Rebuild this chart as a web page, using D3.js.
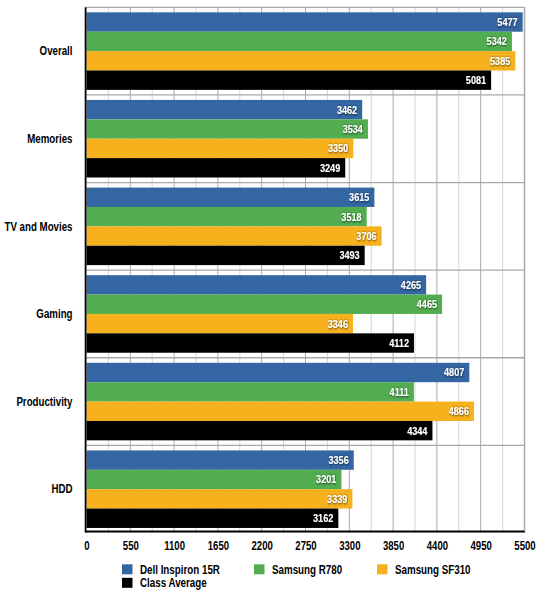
<!DOCTYPE html>
<html><head><meta charset="utf-8">
<script src="https://cdn.jsdelivr.net/npm/d3@7"></script>
<style>
body{margin:0;background:#fff;}
text{font-family:"Liberation Sans",Arial,sans-serif;font-weight:bold;}
</style></head>
<body><svg id="c" width="540" height="599"></svg>
<script>
const categories = ["Overall","Memories","TV and Movies","Gaming","Productivity","HDD"];
const seriesNames = ["Dell Inspiron 15R","Samsung R780","Samsung SF310","Class Average"];
const dell = [5477,3462,3615,4265,4807,3356];
const r780 = [5342,3534,3518,4465,4111,3201];
const sf310 = [5385,3350,3706,3346,4866,3339];
const classAvg = [5081,3249,3493,4112,4344,3162];
const tickValues = [0,550,1100,1650,2200,2750,3300,3850,4400,4950,5500];
const colors = ["#3366a2","#51ad4f","#f6b11d","#000000"];

const series = [dell, r780, sf310, classAvg];
const svg = d3.select("#c");
const defs = svg.append("defs");
const f = defs.append("filter").attr("id","sh").attr("x","-20%").attr("y","-40%").attr("width","140%").attr("height","180%");
f.append("feDropShadow").attr("dx",0.5).attr("dy",0.5).attr("stdDeviation",0.8)
  .attr("flood-color","#000").attr("flood-opacity",0.85);

const L = 86.5, R = 524.5, T = 7.3, B = 533;
const SX = 0.81;
const x = d3.scaleLinear().domain([0,5500]).range([L,R]);
const y = d3.scaleBand().domain(categories).range([T,B]);
const yi = d3.scaleBand().domain(d3.range(4)).range([0,y.bandwidth()]).paddingOuter(0.26).paddingInner(0);

function sText(sel, size, sx){
  return sel.attr("font-size",size);
}

// minor gridlines
const minor = d3.range(275,5500,550);
svg.append("g").selectAll("line").data(minor).join("line")
  .attr("x1",d=>x(d)).attr("x2",d=>x(d)).attr("y1",T).attr("y2",B)
  .attr("stroke","#d6d6d6").attr("stroke-width",1);
svg.append("g").selectAll("line").data(tickValues.slice(1)).join("line")
  .attr("x1",d=>x(d)).attr("x2",d=>x(d)).attr("y1",T).attr("y2",B)
  .attr("stroke","#a8a8a8").attr("stroke-width",1);
// horizontal category separators
svg.append("g").selectAll("line").data(categories).join("line")
  .attr("x1",L).attr("x2",R).attr("y1",d=>y(d)).attr("y2",d=>y(d))
  .attr("stroke","#a8a8a8").attr("stroke-width",1.3);
svg.append("line").attr("x1",R).attr("x2",R).attr("y1",T).attr("y2",B).attr("stroke","#a8a8a8").attr("stroke-width",1.5);

// bars
const groups = svg.append("g").selectAll("g").data(categories).join("g")
  .attr("transform",d=>`translate(0,${y(d)})`);
groups.each(function(cat,ci){
  const g = d3.select(this);
  series.forEach((s,si)=>{
    g.append("rect").attr("x",x(0)).attr("y",yi(si)).attr("width",x(s[ci])-x(0)).attr("height",yi.bandwidth())
      .attr("fill",colors[si]);
  });
  series.forEach((s,si)=>{
    const tx = x(s[ci])-5, ty = yi(si)+yi.bandwidth()/2+4;
    g.append("text").attr("transform",`translate(${tx},${ty}) scale(0.83,1)`).attr("text-anchor","end")
      .attr("font-size",11).attr("fill","#fff").attr("filter","url(#sh)").text(s[ci]);
  });
});

// category labels
svg.append("g").selectAll("text").data(categories).join("text")
  .attr("transform",d=>`translate(72.5,${y(d)+y.bandwidth()/2+4.3}) scale(${SX},1)`).attr("text-anchor","end")
  .attr("font-size",12).attr("fill","#000").text(d=>d);

// axes
const xAxis = d3.axisBottom(x).tickValues(tickValues).tickSize(0).tickPadding(0).tickFormat(d3.format("d"));
const ax = svg.append("g").attr("transform",`translate(0,${B})`).call(xAxis);
ax.select(".domain").remove();
ax.selectAll(".tick text").attr("y",0).attr("dy",0)
  .attr("transform",`translate(0,16.5) scale(0.8,1)`)
  .attr("font-size",12).attr("fill","#000")
  .style("font-family",'"Liberation Sans",Arial,sans-serif').style("font-weight","bold");
svg.append("line").attr("x1",L-1.5).attr("x2",R).attr("y1",B-1.5).attr("y2",B-1.5).attr("stroke","#000").attr("stroke-width",2);
svg.append("line").attr("x1",L-0.9).attr("x2",L-0.9).attr("y1",T).attr("y2",B-0.5).attr("stroke","#000").attr("stroke-width",1.8);

// legend
const legendPos = [[122,564.3],[254,564.3],[377,564.3],[122,577.8]];
const lg = svg.append("g").selectAll("g").data(seriesNames).join("g")
  .attr("transform",(d,i)=>`translate(${legendPos[i][0]},${legendPos[i][1]})`);
lg.append("rect").attr("width",10.5).attr("height",10).attr("fill",(d,i)=>colors[i]);
lg.append("text").attr("transform","translate(18,9.3) scale(0.816,1)").attr("font-size",12).attr("fill","#000").text(d=>d);
</script></body></html>
